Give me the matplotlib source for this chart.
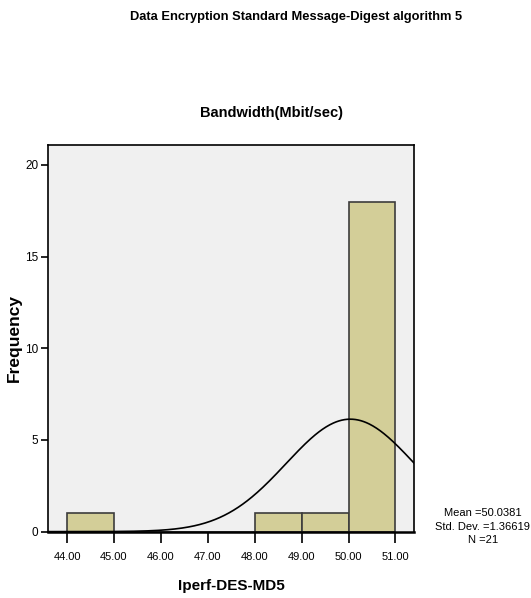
import numpy as np
import matplotlib
matplotlib.use("Agg")
import matplotlib.pyplot as plt

# histogram bins (left edges) and counts
bin_edges = [44, 45, 46, 47, 48, 49, 50, 51]
counts = [1, 0, 0, 0, 1, 1, 18]

mean = 50.0381
std = 1.36619
n = 21

x_ticks = [44, 45, 46, 47, 48, 49, 50, 51]
y_ticks = [0, 5, 10, 15, 20]

plt.rcParams['font.family'] = ['Liberation Sans', 'DejaVu Sans']

fig = plt.figure(figsize=(5.31, 5.98), dpi=100)
ax = fig.add_axes([0.091, 0.111, 0.689, 0.647])
ax.set_facecolor('#F0F0F0')

# bars
ax.bar(bin_edges[:-1], counts, width=1, align='edge', color='#D3CE98',
       edgecolor='#3C3C3C', linewidth=1.2, zorder=2)

# normal curve
xs = np.linspace(43.6, 51.4, 400)
ys = n * 1.0 / (std * np.sqrt(2 * np.pi)) * np.exp(-0.5 * ((xs - mean) / std) ** 2)
ax.plot(xs, ys, color='black', linewidth=1.2, zorder=3)

ax.set_xlim(43.6, 51.4)
ax.set_ylim(0, 21.1)
ax.set_xticks(x_ticks)
ax.set_xticklabels(['%.2f' % t for t in x_ticks], fontsize=8)
ax.set_yticks(y_ticks)
ax.set_yticklabels([str(t) for t in y_ticks], fontsize=8.5)
ax.tick_params(axis='x', length=8, width=1.2, pad=7)
ax.tick_params(axis='y', length=5, width=1.2, pad=2)
for s in ax.spines.values():
    s.set_linewidth(1.2)
ax.spines['bottom'].set_linewidth(1.8)

ax.set_xlabel('Iperf-DES-MD5', fontsize=11, fontweight='bold', labelpad=12)
fig.text(0.028, 0.434, 'Frequency', rotation=90, ha='center', va='center',
         fontsize=12.5, fontweight='bold')

fig.text(0.558, 0.972, 'Data Encryption Standard Message-Digest algorithm 5',
         ha='center', va='center', fontsize=9.3, fontweight='bold')
fig.text(0.512, 0.811, 'Bandwidth(Mbit/sec)', ha='center', va='center',
         fontsize=10.5, fontweight='bold')

fig.text(0.909, 0.119, 'Mean =50.0381\nStd. Dev. =1.36619\nN =21',
         ha='center', va='center', fontsize=8, linespacing=1.45)

fig.savefig('out.png', dpi=100)
